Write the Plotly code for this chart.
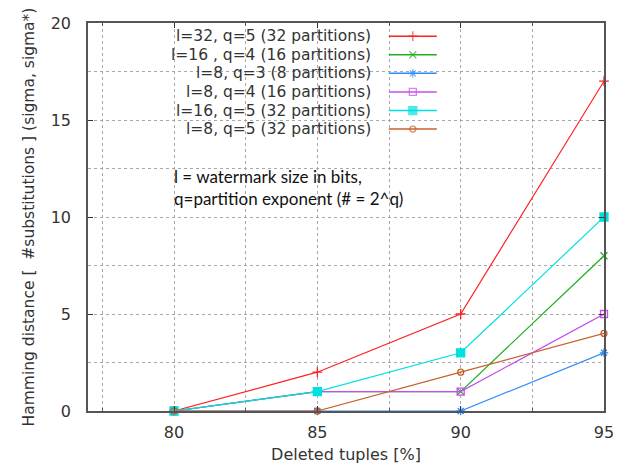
import plotly.graph_objects as go

# ---- data ----
deleted_pct = [80, 85, 90, 95]
series_names = [
    "l=32, q=5 (32 partitions)",
    "l=16 , q=4 (16 partitions)",
    "l=8, q=3 (8 partitions)",
    "l=8, q=4 (16 partitions)",
    "l=16, q=5 (32 partitions)",
    "l=8, q=5 (32 partitions)",
]
l32_q5 = [0, 2, 5, 17]
l16_q4 = [0, 1, 1, 8]
l8_q3 = [0, 0, 0, 3]
l8_q4 = [0, 1, 1, 5]
l16_q5 = [0, 1, 3, 10]
l8_q5 = [0, 0, 2, 4]
series_values = [l32_q5, l16_q4, l8_q3, l8_q4, l16_q5, l8_q5]
x_ticks = [80, 85, 90, 95]
y_ticks = [0, 5, 10, 15, 20]

colors = ["#ff2020", "#20b020", "#2b8cff", "#c84cf0", "#00e0e0", "#c8602c"]
symbols = ["cross-thin-open", "x-thin-open", "asterisk-open", "square-open", "square", "circle-open"]
msizes = [7, 7, 7, 7, 8, 6]

fig = go.Figure()
for name, vals, c, s, ms in zip(series_names, series_values, colors, symbols, msizes):
    fig.add_trace(go.Scatter(
        x=deleted_pct, y=vals, mode="lines+markers", name=name,
        line=dict(color=c, width=1.2),
        marker=dict(symbol=s, size=ms, color=c, line=dict(color=c, width=1.3)),
        showlegend=False, cliponaxis=False,
    ))

# ---- manual gnuplot-style legend (text right, sample left) ----
leg_x0, leg_x1, leg_xm, leg_text_x = 0.583, 0.676, 0.6295, 0.553
leg_y0, leg_dy = 0.966, 0.0479
for i, (name, c, s, ms) in enumerate(zip(series_names, colors, symbols, msizes)):
    yy = leg_y0 - i * leg_dy
    fig.add_trace(go.Scatter(
        x=[leg_x0, leg_xm, leg_x1], y=[yy, yy, yy], xaxis="x2", yaxis="y2",
        mode="lines+markers", showlegend=False, hoverinfo="skip",
        line=dict(color=c, width=1.5),
        marker=dict(symbol=s, size=[0, ms, 0], color=c, line=dict(color=c, width=1.3)),
    ))
    fig.add_annotation(x=leg_text_x, y=yy, xref="paper", yref="paper", text=name,
                       showarrow=False, xanchor="right", yanchor="middle",
                       font=dict(family="DejaVu Sans", size=15.5, color="#333333"))

fig.add_annotation(x=0.163, y=0.577, xref="paper", yref="paper",
                   text="l = watermark size in bits,<br>q=partition exponent (# = 2^q)",
                   showarrow=False, xanchor="left", yanchor="middle", align="left",
                   font=dict(family="Lato", size=17, color="#111111"))

grid = dict(showgrid=True, gridcolor="#a8a8a8", griddash="dot", gridwidth=1)
fig.update_layout(
    width=617, height=461,
    margin=dict(l=80, r=21, t=15, b=58),
    paper_bgcolor="white", plot_bgcolor="white",
    font=dict(family="DejaVu Sans", size=16, color="#333333"),
    xaxis=dict(
        range=[77, 95], tickvals=x_ticks, ticks="inside", ticklen=5, tickcolor="#333",
        showline=True, linecolor="#555555", linewidth=1.5, mirror="allticks",
        zeroline=False, automargin=False,
        minor=dict(dtick=2.5, tick0=77.5, ticks="inside", ticklen=3, tickcolor="#555", **grid),
        title=dict(text="Deleted tuples [%]", font=dict(size=16), standoff=8),
        ticklabelstandoff=6,
        **grid,
    ),
    yaxis=dict(
        range=[0, 20], tickvals=y_ticks, ticks="inside", ticklen=5, tickcolor="#333",
        showline=True, linecolor="#555555", linewidth=1.5, mirror="allticks",
        zeroline=False, automargin=False,
        minor=dict(dtick=2.5, tick0=0, ticks="", **grid),
        title=dict(text="Hamming distance [  #substitutions ] (sigma, sigma*)", font=dict(size=15.5), standoff=12),
        ticklabelstandoff=12,
        **grid,
    ),
    xaxis2=dict(overlaying="x", range=[0, 1], visible=False, domain=[0, 1]),
    yaxis2=dict(overlaying="y", range=[0, 1], visible=False),
)

fig.write_html("out.html")
